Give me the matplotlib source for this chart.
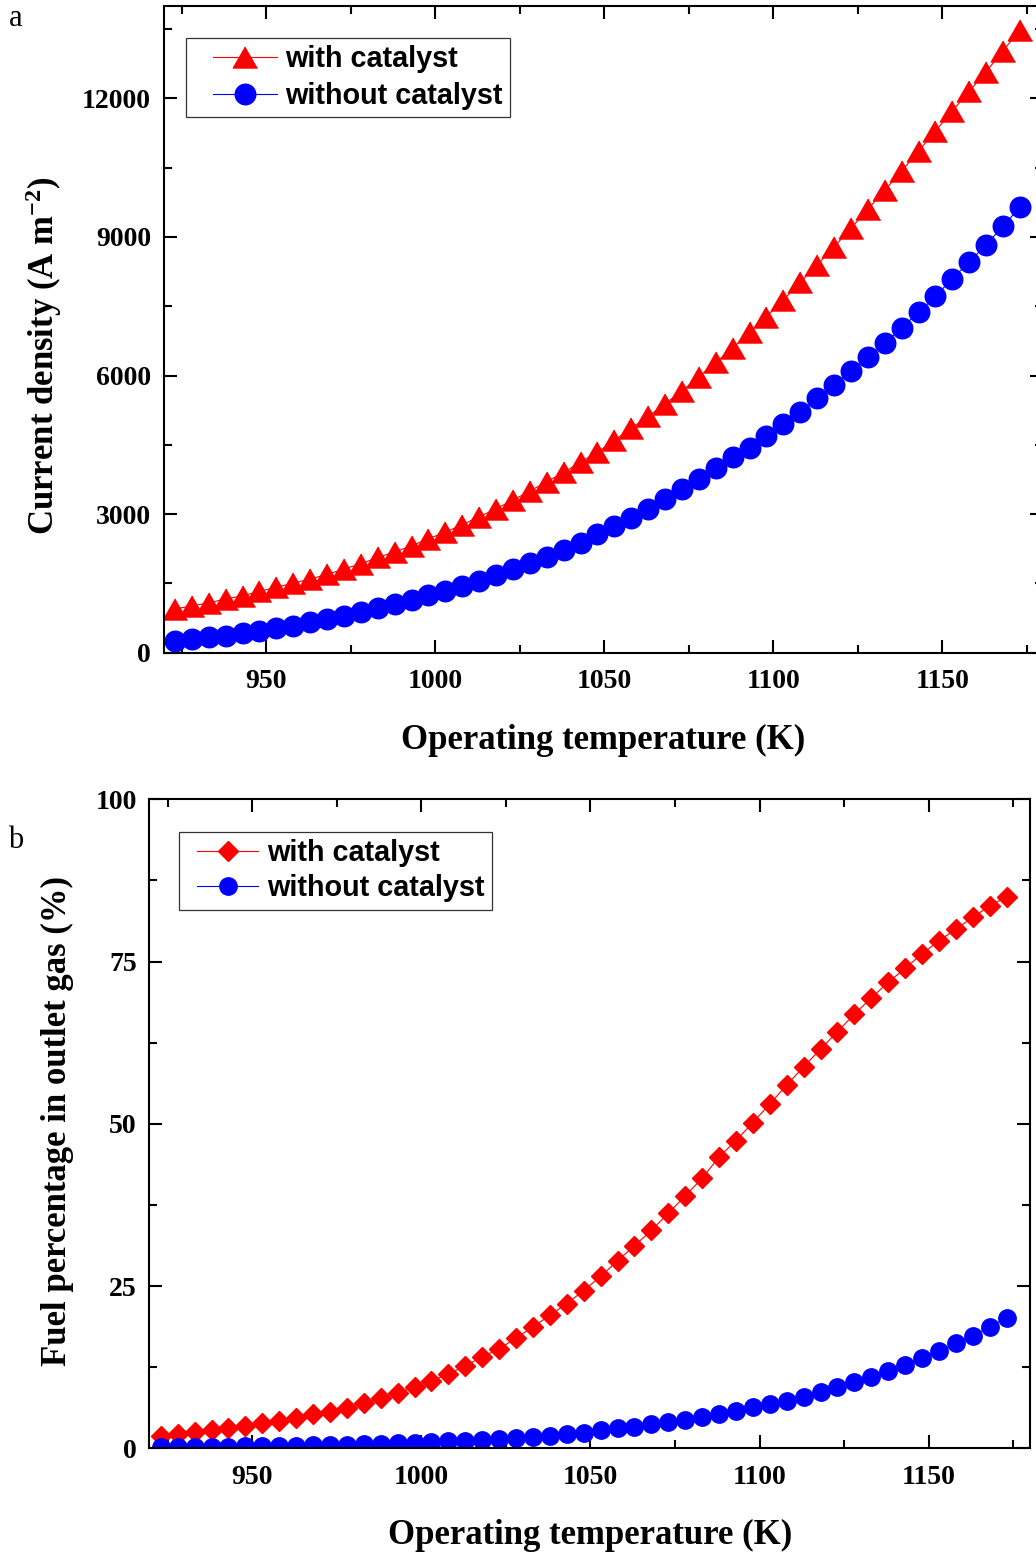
import numpy as np
import matplotlib
matplotlib.use("Agg")
import matplotlib.pyplot as plt
from matplotlib.ticker import MultipleLocator
from matplotlib.legend_handler import HandlerLine2D

plt.rcParams['font.family'] = ['Liberation Serif', 'DejaVu Serif']
plt.rcParams['mathtext.fontset'] = 'custom'
plt.rcParams['mathtext.rm'] = 'Liberation Serif:bold'
plt.rcParams['mathtext.bf'] = 'Liberation Serif:bold'
plt.rcParams['mathtext.it'] = 'Liberation Serif:bold'

# ---------------- data ----------------
temperature = [923 + 5 * i for i in range(51)]  # K, 923..1173

current_with = [952, 1010, 1082, 1162, 1233, 1328, 1415, 1508, 1595, 1696,
                1811, 1926, 2063, 2179, 2315, 2466, 2611, 2770, 2943, 3116,
                3304, 3499, 3700, 3903, 4126, 4342, 4595, 4862, 5114, 5387,
                5668, 5971, 6283, 6599, 6932, 7278, 7637, 8020, 8395, 8784,
                9189, 9600, 10011, 10428, 10861, 11294, 11727, 12153, 12579,
                13033, 13480]
current_without = [260, 290, 333, 368, 419, 469, 527, 584, 657, 729,
                   794, 874, 960, 1054, 1147, 1242, 1341, 1443, 1551, 1674,
                   1804, 1934, 2077, 2222, 2380, 2562, 2741, 2921, 3109, 3319,
                   3535, 3752, 3990, 4228, 4435, 4688, 4948, 5214, 5504, 5785,
                   6101, 6391, 6694, 7040, 7365, 7717, 8100, 8459, 8836, 9232,
                   9649]

fuel_with = [1.94, 2.2, 2.46, 2.82, 3.08, 3.43, 3.85, 4.2, 4.72, 5.24,
             5.64, 6.26, 6.93, 7.70, 8.47, 9.49, 10.4, 11.45, 12.7, 14.1,
             15.3, 17.0, 18.7, 20.5, 22.3, 24.3, 26.5, 28.9, 31.2, 33.6,
             36.2, 38.9, 41.6, 44.9, 47.4, 50.2, 53.05, 55.98, 58.8, 61.5,
             64.2, 66.9, 69.4, 71.8, 73.96, 76.2, 78.2, 80.0, 81.8, 83.6,
             85.0]
fuel_without = [0.25, 0.25, 0.25, 0.26, 0.27, 0.28, 0.36, 0.41, 0.41, 0.46,
                0.56, 0.56, 0.61, 0.72, 0.77, 0.87, 0.97, 1.08, 1.18, 1.33,
                1.49, 1.64, 1.75, 1.95, 2.2, 2.4, 2.82, 3.08, 3.33, 3.69,
                4.10, 4.36, 4.87, 5.28, 5.75, 6.31, 6.78, 7.34, 7.96, 8.68,
                9.40, 10.2, 11.04, 11.97, 12.9, 13.97, 15.05, 16.17, 17.36,
                18.74, 20.13]

labels = ['with catalyst', 'without catalyst']
x_ticks = [950, 1000, 1050, 1100, 1150]
top_yticks = [0, 3000, 6000, 9000, 12000]
bot_yticks = [0, 25, 50, 75, 100]

RED = '#FF0000'
BLUE = '#0000FF'

W, H = 1036, 1552
fig = plt.figure(figsize=(W / 100, H / 100), dpi=100)


def ax_rect(l, r, t, b):
    return [l / W, 1 - b / H, (r - l) / W, (b - t) / H]


ax1 = fig.add_axes(ax_rect(163.5, 1043.3, 6, 652.7))
ax2 = fig.add_axes(ax_rect(149.3, 1030, 799.3, 1448.3))

tri = [(0, 0.866), (-1, -0.866), (1, -0.866)]

ax1.plot(temperature, current_with, color=RED, lw=0.8, marker=tri,
         ms=17.5, mec=RED, mfc=RED, label=labels[0])
ax1.plot(temperature, current_without, color=BLUE, lw=0.8, marker='o',
         ms=14.8, mec=BLUE, mfc=BLUE, label=labels[1])

ax2.plot(temperature, fuel_with, color=RED, lw=0.8, marker='D',
         ms=9.8, mec=RED, mfc=RED, label=labels[0])
ax2.plot(temperature, fuel_without, color=BLUE, lw=0.8, marker='o',
         ms=12.5, mec=BLUE, mfc=BLUE, label=labels[1])

ax1.set_xlim(919.6, 1179.9)
ax1.set_ylim(0, 14000)
ax2.set_xlim(919.6, 1179.9)
ax2.set_ylim(0, 100)

label_font = dict(family='Liberation Serif', weight='bold', size=25)

for ax, yt, ymin in ((ax1, top_yticks, 1500), (ax2, bot_yticks, 12.5)):
    ax.set_xticks(x_ticks)
    ax.set_yticks(yt)
    ax.xaxis.set_minor_locator(MultipleLocator(25))
    ax.yaxis.set_minor_locator(MultipleLocator(ymin))
    ax.tick_params(which='both', direction='in', top=True, right=True,
                   width=1.5)
    ax.tick_params(which='major', length=9.5)
    ax.tick_params(axis='x', which='major', pad=12)
    ax.tick_params(axis='y', which='major', pad=9)
    ax.tick_params(which='minor', length=5.5)
    for lab in ax.get_xticklabels() + ax.get_yticklabels():
        lab.set_fontfamily('Liberation Serif')
        lab.set_fontweight('bold')
        lab.set_fontsize(20)
    for sp in ax.spines.values():
        sp.set_linewidth(1.5)

ax1.set_xlabel('Operating temperature (K)', **label_font, labelpad=21)
ax1.set_ylabel(r'Current density (A m$^{\mathbf{-2}}$)', **label_font)
ax1.yaxis.set_label_coords(-0.113, 0.46)

ax2.set_xlabel('Operating temperature (K)', **label_font, labelpad=21)
ax2.set_ylabel('Fuel percentage in outlet gas (%)', **label_font)
ax2.yaxis.set_label_coords(-0.086, 0.504)

leg_font = dict(family='Liberation Sans', weight='bold', size=20.7)

h1, l1 = ax1.get_legend_handles_labels()
leg1 = ax1.legend(h1, l1, loc='upper left',
                  bbox_to_anchor=((186 - 163.5) / 879.8, (652.7 - 38) / 646.7),
                  prop=leg_font, numpoints=1, frameon=True, fancybox=False,
                  edgecolor='#333333', framealpha=1, borderpad=0.25,
                  borderaxespad=0, handlelength=2.91, handletextpad=0.28,
                  labelspacing=0.31,
                  handler_map={h: HandlerLine2D(xpad=0.69) for h in h1})
leg1.get_frame().set_linewidth(0.9)

h2, l2 = ax2.get_legend_handles_labels()
leg2 = ax2.legend(h2, l2, loc='upper left',
                  bbox_to_anchor=((179 - 149.3) / 880.7, (1448.3 - 832) / 649),
                  prop=leg_font, numpoints=1, frameon=True, fancybox=False,
                  edgecolor='#333333', framealpha=1, borderpad=0.25,
                  borderaxespad=0, handlelength=2.5, handletextpad=0.31,
                  labelspacing=0.25,
                  handler_map={h: HandlerLine2D(xpad=0.38) for h in h2})
leg2.get_frame().set_linewidth(0.9)

fig.text(16 / W, 1 - 18 / H, 'a', family='Liberation Serif', size=22,
         ha='center', va='center')
fig.text(16 / W, 1 - 840 / H, 'b', family='Liberation Serif', size=22,
         ha='center', va='center')

fig.savefig('out.png', dpi=100)
